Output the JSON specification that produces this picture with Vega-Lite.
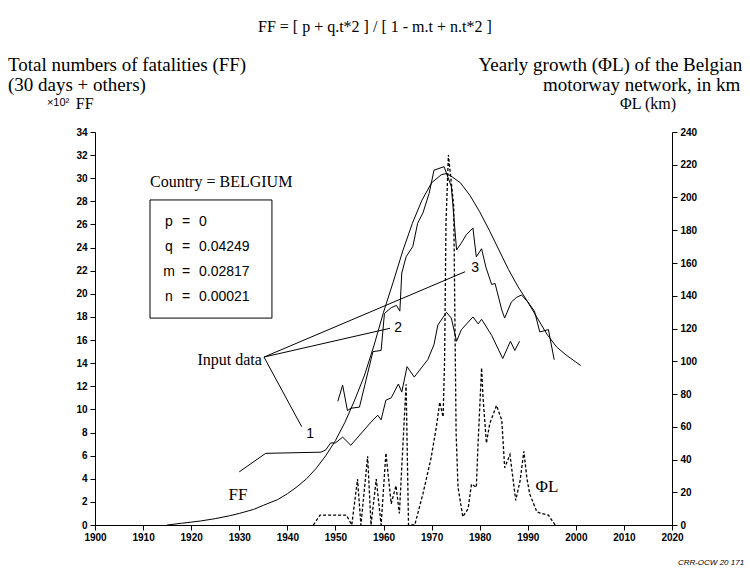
{
  "$schema": "https://vega.github.io/schema/vega-lite/v6.json",
  "width": 577,
  "height": 393,
  "autosize": "none",
  "padding": {"left": 95, "top": 132, "right": 78, "bottom": 53},
  "background": "white",
  "config": {
    "view": {"stroke": null},
    "axis": {"grid": false, "domainColor": "black", "tickColor": "black", "labelColor": "black", "labelFont": "Liberation Sans", "labelFontSize": 10, "labelFontWeight": "bold", "tickSize": 5, "title": null}
  },
  "layer": [
    {
      "encoding": {
        "x": {"field": "year", "type": "quantitative", "scale": {"domain": [1900, 2020], "nice": false, "zero": false}, "axis": {"values": [1900, 1910, 1920, 1930, 1940, 1950, 1960, 1970, 1980, 1990, 2000, 2010, 2020], "format": "d", "labelFlush": false, "title": null}},
        "y": {"field": "value", "type": "quantitative", "scale": {"domain": [0, 34], "nice": false}, "axis": {"orient": "left", "values": [0, 2, 4, 6, 8, 10, 12, 14, 16, 18, 20, 22, 24, 26, 28, 30, 32, 34], "labelPadding": 3, "title": null}}
      },
      "layer": [
        {
          "data": {"values": [
            {"year": 1915, "value": 0.0}, {"year": 1918, "value": 0.15}, {"year": 1920, "value": 0.25}, {"year": 1922, "value": 0.35}, {"year": 1925, "value": 0.55}, {"year": 1928, "value": 0.8}, {"year": 1930, "value": 1.0}, {"year": 1933, "value": 1.35}, {"year": 1935, "value": 1.7}, {"year": 1938, "value": 2.2}, {"year": 1940, "value": 2.7}, {"year": 1942, "value": 3.3}, {"year": 1944, "value": 4.0}, {"year": 1946, "value": 4.9}, {"year": 1948, "value": 6.0}, {"year": 1950, "value": 7.3}, {"year": 1952, "value": 8.9}, {"year": 1954, "value": 10.8}, {"year": 1956, "value": 12.9}, {"year": 1958, "value": 15.5}, {"year": 1960, "value": 18.4}, {"year": 1962, "value": 21.0}, {"year": 1964, "value": 23.7}, {"year": 1966, "value": 26.1}, {"year": 1968, "value": 28.1}, {"year": 1970, "value": 29.6}, {"year": 1972, "value": 30.3}, {"year": 1973, "value": 30.4}, {"year": 1974, "value": 30.2}, {"year": 1976, "value": 29.6}, {"year": 1978, "value": 28.5}, {"year": 1980, "value": 27.1}, {"year": 1982, "value": 25.5}, {"year": 1984, "value": 23.8}, {"year": 1986, "value": 22.1}, {"year": 1988, "value": 20.6}, {"year": 1990, "value": 19.3}, {"year": 1992, "value": 17.9}, {"year": 1994, "value": 16.5}, {"year": 1996, "value": 15.4}, {"year": 1998, "value": 14.7}, {"year": 2000, "value": 14.1}, {"year": 2001, "value": 13.8}
          ]},
          "mark": {"type": "line", "color": "black", "strokeWidth": 1}
        },
        {
          "data": {"values": [
            {"year": 1930, "value": 4.6}, {"year": 1935.5, "value": 6.2}, {"year": 1947, "value": 6.3}, {"year": 1948, "value": 6.5}, {"year": 1949, "value": 7.1}, {"year": 1950, "value": 7.1}, {"year": 1951.5, "value": 7.6}, {"year": 1953.2, "value": 6.9}, {"year": 1955.3, "value": 7.9}, {"year": 1957.4, "value": 8.9}, {"year": 1958.8, "value": 9.5}, {"year": 1959.5, "value": 9.1}, {"year": 1960.5, "value": 10.8}, {"year": 1961.6, "value": 11.0}, {"year": 1963.1, "value": 12.2}, {"year": 1963.8, "value": 11.5}, {"year": 1964.9, "value": 13.7}, {"year": 1966.4, "value": 12.8}, {"year": 1969.2, "value": 14.3}, {"year": 1970.5, "value": 15.6}, {"year": 1971.3, "value": 17.3}, {"year": 1973.1, "value": 18.4}, {"year": 1974.1, "value": 17.9}, {"year": 1975.2, "value": 15.9}, {"year": 1976.2, "value": 16.9}, {"year": 1978.6, "value": 18.0}, {"year": 1979.7, "value": 17.4}, {"year": 1980.4, "value": 17.8}, {"year": 1982.5, "value": 16.4}, {"year": 1984.8, "value": 14.4}, {"year": 1986.4, "value": 15.9}, {"year": 1987.3, "value": 15.1}, {"year": 1988.3, "value": 15.9}
          ]},
          "mark": {"type": "line", "color": "black", "strokeWidth": 1}
        },
        {
          "data": {"values": [
            {"year": 1950.5, "value": 10.7}, {"year": 1951.5, "value": 12.1}, {"year": 1952.5, "value": 9.9}, {"year": 1953.2, "value": 10.1}, {"year": 1955, "value": 10.2}, {"year": 1957.8, "value": 15.0}, {"year": 1959.5, "value": 15.1}, {"year": 1960.2, "value": 18.3}, {"year": 1961.6, "value": 18.8}, {"year": 1962.7, "value": 19.0}, {"year": 1963.4, "value": 18.5}, {"year": 1963.8, "value": 21.8}, {"year": 1964.7, "value": 23.2}, {"year": 1966.1, "value": 24.1}, {"year": 1967.1, "value": 26.1}, {"year": 1968.2, "value": 27.0}, {"year": 1969.5, "value": 28.7}, {"year": 1970.5, "value": 30.7}, {"year": 1972.6, "value": 31.0}, {"year": 1973.2, "value": 30.3}, {"year": 1974.1, "value": 29.3}, {"year": 1975.2, "value": 23.8}, {"year": 1976.2, "value": 24.4}, {"year": 1977.2, "value": 25.1}, {"year": 1978.6, "value": 25.7}, {"year": 1979.3, "value": 23.2}, {"year": 1980.4, "value": 23.9}, {"year": 1981.3, "value": 22.3}, {"year": 1982.5, "value": 20.8}, {"year": 1983.2, "value": 20.9}, {"year": 1984.6, "value": 18.6}, {"year": 1985.2, "value": 17.9}, {"year": 1986.6, "value": 19.3}, {"year": 1987.7, "value": 19.7}, {"year": 1988.7, "value": 19.9}, {"year": 1990, "value": 19.3}, {"year": 1991.4, "value": 18.5}, {"year": 1992.5, "value": 16.7}, {"year": 1994.3, "value": 16.9}, {"year": 1995.5, "value": 14.3}
          ]},
          "mark": {"type": "line", "color": "black", "strokeWidth": 1}
        },
        {
          "data": {"values": [{"year": 1911.44, "value": 28.12, "year2": 1936.8, "value2": 17.9}]},
          "mark": {"type": "rect", "fill": "white", "fillOpacity": 0, "stroke": "black", "strokeWidth": 1},
          "encoding": {"x2": {"field": "year2"}, "y2": {"field": "value2"}}
        },
        {
          "data": {"values": [
            {"year": 1935.15, "value": 14.53, "year2": 1976.96, "value2": 21.91},
            {"year": 1935.15, "value": 14.53, "year2": 1961.36, "value2": 17.02},
            {"year": 1935.15, "value": 14.53, "year2": 1942.99, "value2": 8.5}
          ]},
          "mark": {"type": "rule", "color": "black", "strokeWidth": 1},
          "encoding": {"x2": {"field": "year2"}, "y2": {"field": "value2"}}
        },
        {
          "data": {"values": [{"year": 1958.2, "value": 43.08, "label": "FF = [ p + q.t*2 ] / [ 1 - m.t + n.t*2 ]"}]},
          "mark": {"type": "text", "font": "Liberation Serif", "fontSize": 16, "align": "center", "baseline": "middle", "color": "black"},
          "encoding": {"text": {"field": "label"}}
        },
        {
          "data": {"values": [
            {"year": 1881.9, "value": 39.8, "label": "Total numbers of fatalities (FF)"},
            {"year": 1881.9, "value": 38.07, "label": "(30 days + others)"}
          ]},
          "mark": {"type": "text", "font": "Liberation Serif", "fontSize": 19, "align": "left", "baseline": "middle", "color": "black"},
          "encoding": {"text": {"field": "label"}}
        },
        {
          "data": {"values": [
            {"year": 2034.6, "value": 39.8, "label": "Yearly growth (ΦL) of the Belgian"},
            {"year": 2034.2, "value": 38.07, "label": "motorway network, in km"}
          ]},
          "mark": {"type": "text", "font": "Liberation Serif", "fontSize": 19, "align": "right", "baseline": "middle", "color": "black"},
          "encoding": {"text": {"field": "label"}}
        },
        {
          "data": {"values": [
            {"year": 1896.0, "value": 36.42, "label": "FF"},
            {"year": 2009.2, "value": 36.42, "label": "ΦL (km)"}
          ]},
          "mark": {"type": "text", "font": "Liberation Serif", "fontSize": 16, "align": "left", "baseline": "middle", "color": "black"},
          "encoding": {"text": {"field": "label"}}
        },
        {
          "data": {"values": [{"year": 1890.0, "value": 36.5, "label": "×10²"}]},
          "mark": {"type": "text", "font": "Liberation Sans", "fontSize": 11, "align": "left", "baseline": "middle", "color": "black"},
          "encoding": {"text": {"field": "label"}}
        },
        {
          "data": {"values": [{"year": 1911.44, "value": 29.67, "label": "Country = BELGIUM"}]},
          "mark": {"type": "text", "font": "Liberation Serif", "fontSize": 16, "align": "left", "baseline": "middle", "color": "black"},
          "encoding": {"text": {"field": "label"}}
        },
        {
          "data": {"values": [
            {"year": 1914.56, "value": 26.21, "label": "p"}, {"year": 1918.1, "value": 26.21, "label": "="}, {"year": 1921.63, "value": 26.21, "label": "0"},
            {"year": 1914.56, "value": 24.05, "label": "q"}, {"year": 1918.1, "value": 24.05, "label": "="}, {"year": 1921.63, "value": 24.05, "label": "0.04249"},
            {"year": 1914.2, "value": 21.89, "label": "m"}, {"year": 1918.1, "value": 21.89, "label": "="}, {"year": 1921.63, "value": 21.89, "label": "0.02817"},
            {"year": 1914.56, "value": 19.72, "label": "n"}, {"year": 1918.1, "value": 19.72, "label": "="}, {"year": 1921.63, "value": 19.72, "label": "0.00021"}
          ]},
          "mark": {"type": "text", "font": "Liberation Sans", "fontSize": 14, "align": "left", "baseline": "middle", "color": "black"},
          "encoding": {"text": {"field": "label"}}
        },
        {
          "data": {"values": [{"year": 1934.7, "value": 14.27, "label": "Input data"}]},
          "mark": {"type": "text", "font": "Liberation Serif", "fontSize": 16, "align": "right", "baseline": "middle", "color": "black"},
          "encoding": {"text": {"field": "label"}}
        },
        {
          "data": {"values": [
            {"year": 1979.04, "value": 22.23, "label": "3"},
            {"year": 1963.02, "value": 17.04, "label": "2"},
            {"year": 1944.72, "value": 7.87, "label": "1"}
          ]},
          "mark": {"type": "text", "font": "Liberation Sans", "fontSize": 14, "align": "center", "baseline": "middle", "color": "black"},
          "encoding": {"text": {"field": "label"}}
        },
        {
          "data": {"values": [
            {"year": 1929.74, "value": 2.6, "label": "FF"},
            {"year": 1994.0, "value": 3.29, "label": "ΦL"}
          ]},
          "mark": {"type": "text", "font": "Liberation Serif", "fontSize": 17, "align": "center", "baseline": "middle", "color": "black"},
          "encoding": {"text": {"field": "label"}}
        },
        {
          "data": {"values": [{"year": 2035.0, "value": -3.3, "label": "CRR-OCW 20 171"}]},
          "mark": {"type": "text", "font": "Liberation Sans", "fontSize": 8, "fontStyle": "italic", "align": "right", "baseline": "middle", "color": "black"},
          "encoding": {"text": {"field": "label"}}
        }
      ]
    },
    {
      "data": {"values": [
        {"year": 1945.4, "km": 0}, {"year": 1946.8, "km": 6}, {"year": 1952.3, "km": 6}, {"year": 1953.4, "km": 0},
        {"year": 1954.6, "km": 28}, {"year": 1955.3, "km": 0}, {"year": 1956.7, "km": 42}, {"year": 1957.4, "km": 0},
        {"year": 1958.5, "km": 28}, {"year": 1959.5, "km": 0}, {"year": 1960.5, "km": 44}, {"year": 1961.6, "km": 13},
        {"year": 1962.6, "km": 24}, {"year": 1963.3, "km": 7}, {"year": 1964.7, "km": 86}, {"year": 1965.2, "km": 0},
        {"year": 1966.5, "km": 0}, {"year": 1968.2, "km": 19}, {"year": 1969.9, "km": 41}, {"year": 1971.0, "km": 60},
        {"year": 1971.7, "km": 75}, {"year": 1972.4, "km": 66}, {"year": 1972.7, "km": 100}, {"year": 1973.0, "km": 185},
        {"year": 1973.5, "km": 226}, {"year": 1974.6, "km": 195}, {"year": 1975.1, "km": 56}, {"year": 1975.5, "km": 23},
        {"year": 1976.5, "km": 5}, {"year": 1977.6, "km": 10}, {"year": 1978.3, "km": 25}, {"year": 1979.3, "km": 23},
        {"year": 1979.7, "km": 52}, {"year": 1980.4, "km": 96}, {"year": 1980.7, "km": 78}, {"year": 1981.4, "km": 50},
        {"year": 1982.1, "km": 62}, {"year": 1983.5, "km": 73}, {"year": 1984.6, "km": 64}, {"year": 1985.2, "km": 35},
        {"year": 1986.3, "km": 43}, {"year": 1987.5, "km": 15}, {"year": 1988.4, "km": 27}, {"year": 1989.2, "km": 45},
        {"year": 1989.8, "km": 29}, {"year": 1990.4, "km": 19}, {"year": 1991.9, "km": 8}, {"year": 1992.9, "km": 7},
        {"year": 1994.3, "km": 6}, {"year": 1995.7, "km": 0}
      ]},
      "mark": {"type": "line", "color": "black", "strokeWidth": 1.3, "strokeDash": [3, 2]},
      "encoding": {
        "x": {"field": "year", "type": "quantitative", "scale": {"domain": [1900, 2020], "nice": false, "zero": false}, "axis": {"values": [1900, 1910, 1920, 1930, 1940, 1950, 1960, 1970, 1980, 1990, 2000, 2010, 2020], "format": "d", "labelFlush": false, "title": null}},
        "y": {"field": "km", "type": "quantitative", "scale": {"domain": [0, 240], "nice": false}, "axis": {"orient": "right", "values": [0, 20, 40, 60, 80, 100, 120, 140, 160, 180, 200, 220, 240], "labelPadding": 3, "title": null}}
      }
    }
  ],
  "resolve": {"scale": {"y": "independent"}}
}
